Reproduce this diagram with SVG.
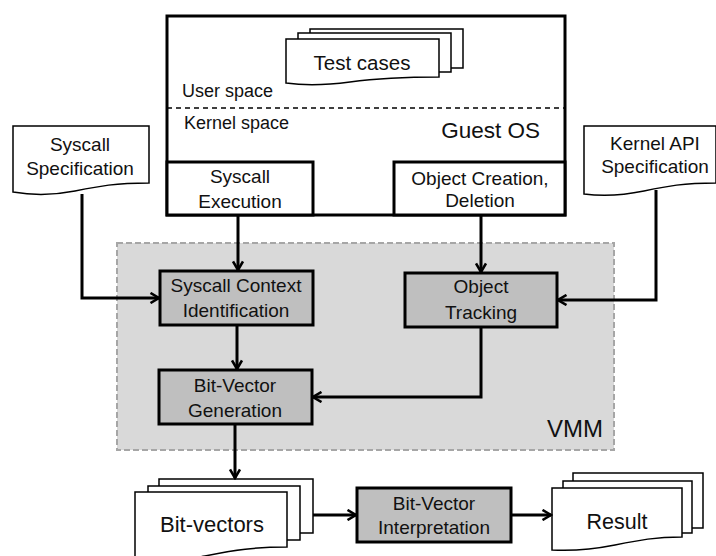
<svg xmlns="http://www.w3.org/2000/svg" width="716" height="556" viewBox="0 0 716 556">
  <style>
    text { font-family: "Liberation Sans", Arial, sans-serif; fill: #111; }
    .t { font-size: 19px; text-anchor: middle; }
    .sheet { fill: #fff; stroke: #000; stroke-width: 1.5; }
    .box { fill: #fff; stroke: #000; stroke-width: 3; }
    .proc { fill: #bfbfbf; stroke: #000; stroke-width: 3; }
    .edge { fill: none; stroke: #000; stroke-width: 3; marker-end: url(#arr); }
  </style>
  <defs>
    <marker id="arr" viewBox="0 0 12 12" refX="10.5" refY="6" markerWidth="12" markerHeight="12" markerUnits="userSpaceOnUse" orient="auto">
      <path d="M2,1 L10.5,6 L2,11" fill="none" stroke="#000" stroke-width="2.6"/>
    </marker>
  </defs>

  <!-- VMM container -->
  <g id="vmm">
    <rect x="117" y="243" width="497" height="207" fill="#d9d9d9" stroke="#a6a6a6" stroke-width="2" stroke-dasharray="6 3"/>
    <text x="603" y="437" style="font-size:24px;text-anchor:end">VMM</text>
  </g>

  <!-- Guest OS -->
  <g id="guest-os">
    <rect class="box" x="167" y="16" width="398" height="199"/>
    <line x1="167" y1="108" x2="565" y2="108" stroke="#000" stroke-width="1.5" stroke-dasharray="5 4"/>
    <text x="182" y="97" style="font-size:18px">User space</text>
    <text x="184" y="129" style="font-size:18px">Kernel space</text>
    <text x="540" y="138" style="font-size:22.5px;text-anchor:end">Guest OS</text>
  </g>

  <g id="test-cases">
    <path class="sheet" d="M310,29 H463 V68 H310 Z"/>
    <path class="sheet" d="M298,33 H451 V72 H298 Z"/>
    <path class="sheet" d="M286,39 H439 V77 C405,77 380,78 350,82 C320,86 300,85 286,83 Z"/>
    <text x="362" y="70" style="font-size:20.5px;text-anchor:middle">Test cases</text>
  </g>

  <g id="syscall-execution">
    <rect class="box" x="167" y="162" width="146" height="53"/>
    <text class="t" x="240" y="183">Syscall</text>
    <text class="t" x="240" y="208">Execution</text>
  </g>

  <g id="object-creation">
    <rect class="box" x="394" y="162" width="171" height="53"/>
    <text class="t" x="480" y="185">Object Creation,</text>
    <text class="t" x="480" y="207">Deletion</text>
  </g>

  <g id="syscall-spec">
    <path class="sheet" d="M13,126 H149 V183 C115,183 100,186 75,191 C50,196 30,195 13,192 Z"/>
    <text class="t" x="80" y="151">Syscall</text>
    <text class="t" x="80" y="175">Specification</text>
  </g>

  <g id="kernel-api-spec">
    <path class="sheet" d="M584,126 H716 V183 C683,183 668,186 644,191 C620,196 600,196 584,194 Z"/>
    <text class="t" x="655" y="150">Kernel API</text>
    <text class="t" x="655" y="173">Specification</text>
  </g>

  <g id="syscall-context">
    <rect class="proc" x="160" y="271" width="153" height="54"/>
    <text class="t" x="236" y="292">Syscall Context</text>
    <text class="t" x="236" y="317">Identification</text>
  </g>

  <g id="object-tracking">
    <rect class="proc" x="405" y="273" width="152" height="54"/>
    <text class="t" x="481" y="293">Object</text>
    <text class="t" x="481" y="319">Tracking</text>
  </g>

  <g id="bv-generation">
    <rect class="proc" x="159" y="370" width="153" height="54"/>
    <text class="t" x="235" y="392">Bit-Vector</text>
    <text class="t" x="235" y="417">Generation</text>
  </g>

  <g id="bit-vectors">
    <path class="sheet" d="M159,479 H313 V533 H159 Z"/>
    <path class="sheet" d="M148,486 H300 V540 H148 Z"/>
    <path class="sheet" d="M135,492 H287 V547 C255,547 235,550 205,556 C180,561 155,562 135,562 Z"/>
    <text x="212" y="532" style="font-size:22px;text-anchor:middle">Bit-vectors</text>
  </g>

  <g id="bv-interpretation">
    <rect class="proc" x="357" y="488" width="154" height="54"/>
    <text class="t" x="434" y="510">Bit-Vector</text>
    <text class="t" x="434" y="534">Interpretation</text>
  </g>

  <g id="result">
    <path class="sheet" d="M573,473 H703 V528 H573 Z"/>
    <path class="sheet" d="M563,481 H692 V533 H563 Z"/>
    <path class="sheet" d="M552,488 H682 V537 C655,537 640,540 615,545 C590,550 570,551 552,550 Z"/>
    <text x="617" y="529" style="font-size:21.5px;text-anchor:middle">Result</text>
  </g>

  <!-- connectors -->
  <g id="connectors">
    <path class="edge" d="M238,215 V270"/>
    <path class="edge" d="M481,215 V272"/>
    <path class="edge" d="M82,194 V298 H159"/>
    <path class="edge" d="M656,190 V300 H558"/>
    <path class="edge" d="M237,325 V369"/>
    <path class="edge" d="M481,327 V397 H313"/>
    <path class="edge" d="M235,424 V478"/>
    <path class="edge" d="M313,515 H356"/>
    <path class="edge" d="M511,515 H551"/>
  </g>
</svg>
